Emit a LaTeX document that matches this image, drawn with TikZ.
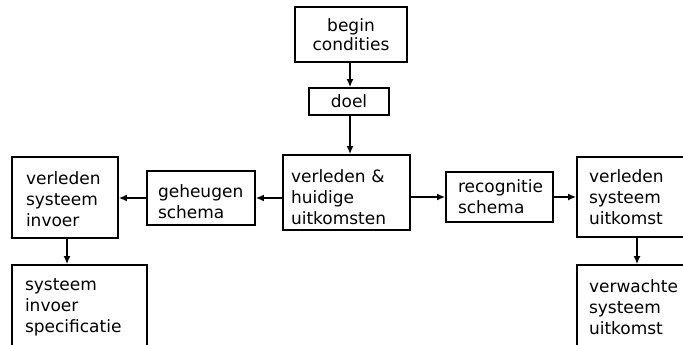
\documentclass[tikz,border=0pt]{standalone}
\usepackage{fontspec}
\setmainfont{DejaVu Sans}
\usetikzlibrary{arrows.meta}
\begin{document}
\begin{tikzpicture}[x=1pt,y=-1pt,
  box/.style={draw=black, line width=1.7pt, align=left, font=\fontsize{17}{21}\selectfont, inner ysep=0pt},
  cbox/.style={box, align=center, font=\fontsize{17}{19}\selectfont},
  drop/.style={execute at begin node={\rule{0pt}{#1}}},
  arr/.style={line width=1.7pt, -{Latex[length=8pt,width=7pt]}}]
\useasboundingbox (0,0) rectangle (683,345);
\fill[white] (0,0) rectangle (683,345);
\clip (0,0) rectangle (683,345);
% top column
\node[cbox, minimum width=112pt, minimum height=55pt] (begin) at (351,34.5) {begin\\condities};
\node[cbox, minimum width=80pt, minimum height=27pt] (doel) at (349,101.5) {doel};
\node[box, drop=22pt, minimum width=127pt, minimum height=75pt, text width=111pt, inner xsep=8pt] (vh) at (346.5,192.5) {verleden \&\\huidige\\uitkomsten};
% left side
\node[box, drop=20pt, minimum width=108pt, minimum height=54pt, text width=86pt, inner xsep=11pt] (geh) at (201,198) {geheugen\\schema};
\node[box, drop=17pt, minimum width=106pt, minimum height=81pt, text width=78pt, inner xsep=14pt] (vsi) at (65,197.5) {verleden\\systeem\\invoer};
\node[box, minimum width=135pt, minimum height=84pt, text width=109pt, inner xsep=13pt] (sis) at (79.5,307) {systeem\\invoer\\specificatie};
% right side
\node[box, minimum width=107pt, minimum height=50pt, text width=83pt, inner xsep=12pt] (rec) at (499.5,197) {recognitie\\schema};
\node[box, minimum width=112pt, minimum height=80pt, text width=100pt, inner xsep=12pt] (vsu) at (639,197) {verleden\\systeem\\uitkomst};
\node[box, minimum width=112pt, minimum height=84pt, text width=100pt, inner xsep=12pt] (vwsu) at (639,307) {verwachte\\systeem\\uitkomst};
% connectors
\coordinate (cx) at (350,0);
\coordinate (lx) at (67,0);
\coordinate (rx) at (637,0);
\draw[arr] (begin.south -| cx) -- (doel.north -| cx);
\draw[arr] (doel.south -| cx) -- (vh.north -| cx);
\draw[arr] (vh.west |- geh.east) -- (geh.east);
\draw[arr] (geh.west) -- (vsi.east |- geh.west);
\draw[arr] (vh.east |- rec.west) -- (rec.west);
\draw[arr] (rec.east) -- (vsu.west |- rec.east);
\draw[arr] (vsi.south -| lx) -- (sis.north -| lx);
\draw[arr] (vsu.south -| rx) -- (vwsu.north -| rx);
\end{tikzpicture}
\end{document}
